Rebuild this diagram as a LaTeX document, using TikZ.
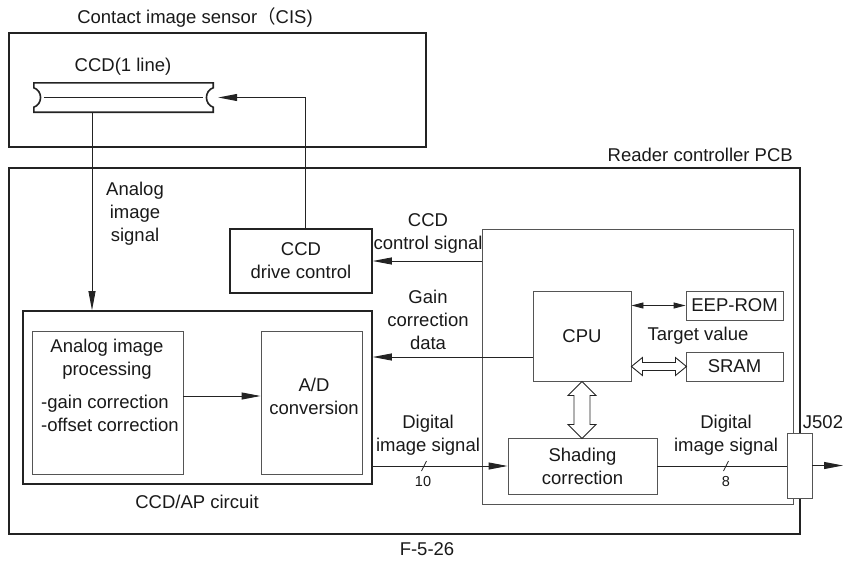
\documentclass[tikz,border=0pt]{standalone}
\usepackage{fontspec}
\setmainfont{Liberation Sans}
\newfontfamily\cjkfont{Noto Sans CJK SC}
\usepackage{xcolor}
\definecolor{linegray}{RGB}{35,35,35}
\definecolor{boxgray}{RGB}{85,85,85}
\usetikzlibrary{arrows.meta, calc}

\begin{document}
\begin{tikzpicture}[x=1pt, y=-1pt,
  every node/.style={font=\fontsize{18.5}{23}\selectfont, text=black!90},
  outerbox/.style={draw=linegray, line width=1.6pt, inner sep=0pt, align=center},
  innerbox/.style={draw=boxgray, line width=0.9pt, inner sep=0pt, align=center},
  txt/.style={align=center, inner sep=0pt},
  sig/.style={draw=linegray, line width=0.9pt, -{Triangle[length=19pt,width=7pt]}},
  bus/.style={draw=linegray, line width=0.7pt},
  hollow/.style={draw=linegray, line width=0.9pt, fill=white}]

\useasboundingbox (0,0) rectangle (845,562);

% === Contact image sensor ===
\node[outerbox, minimum width=417pt, minimum height=114pt] (cis) at (217.5,90) {};
\node[txt] (cistitle) at (195,18) {Contact image sensor{\cjkfont （}CIS)};

% CCD line sensor (notched bar)
\node[minimum width=179pt, minimum height=29pt, inner sep=0pt] (ccd) at (123.5,97.5) {};
\draw[linegray, line width=1.6pt] (ccd.north west) -- (ccd.north east)
     -- ($(ccd.north east)+(0,5)$) .. controls +(-9,3) and +(-9,-3) .. ($(ccd.south east)+(0,-5)$)
     -- (ccd.south east) -- (ccd.south west)
     -- ($(ccd.south west)+(0,-5)$) .. controls +(9,-3) and +(9,3) .. ($(ccd.north west)+(0,5)$)
     -- cycle;
\draw[linegray, line width=0.9pt] ($(ccd.west)+(10,0)$) -- ($(ccd.east)+(-10,0)$);
\node[txt] (ccdlbl) at (123,67) {CCD(1 line)};

% === Reader controller PCB ===
\node[outerbox, minimum width=791pt, minimum height=366pt] (pcb) at (404.5,351) {};
\node[txt, anchor=east] (pcblbl) at (793,155) {Reader controller PCB};

\node[outerbox, minimum width=142pt, minimum height=64pt] (drive) at (301,261) {CCD\\drive control};

% CCD/AP circuit
\node[outerbox, minimum width=349pt, minimum height=173pt] (ccdap) at (197.5,397.5) {};
\node[txt] (ccdaplbl) at (197,502) {CCD/AP circuit};

\node[innerbox, minimum width=151pt, minimum height=143pt] (analog) at (107.5,402.5) {};
\node[txt] (analogtxt) at (107,359.5) {Analog image\\processing};
\node[txt, anchor=west, align=left] (corrtxt) at (41,413.5) {-gain correction\\-offset correction};

\node[innerbox, minimum width=101pt, minimum height=143pt] (adc) at (311.5,402.5) {};
\node[txt] (adctxt) at (314,396.5) {A/D\\conversion};

% Controller area
\node[innerbox, minimum width=311pt, minimum height=275pt] (ctrl) at (637.5,366.5) {};
\node[innerbox, minimum width=98pt, minimum height=90pt] (cpu) at (582,336) {CPU};
\node[innerbox, minimum width=97pt, minimum height=29pt] (eeprom) at (734.5,305.5) {EEP-ROM};
\node[innerbox, minimum width=97pt, minimum height=29pt] (sram) at (734.5,366.5) {SRAM};
\node[txt] (targetlbl) at (698,336) {Target value};
\node[innerbox, minimum width=149pt, minimum height=56pt] (shading) at (582.5,466) {Shading\\correction};
\node[innerbox, fill=white, minimum width=25pt, minimum height=65pt] (j502) at (799.5,465.5) {};
\node[txt] (j502lbl) at (823,422) {J502};

% Signal labels
\node[txt] (analoglbl) at (135,214) {Analog\\image\\signal};
\node[txt] (ctrlsiglbl) at (428,233.5) {CCD\\control signal};
\node[txt] (gainlbl) at (428,319.5) {Gain\\correction\\data};
\node[txt] (digitlbl) at (428,435) {Digital\\image signal};
\node[txt] (digoutlbl) at (726,435.5) {Digital\\image signal};
\node[txt, font=\fontsize{14.5}{17}\selectfont] (bus10) at (423,482) {10};
\node[txt, font=\fontsize{14.5}{17}\selectfont] (bus8) at (726,482) {8};

% Connectors
\coordinate (adrop) at ([xshift=-31.5pt]ccd.south);
\draw[sig] (adrop) -- (adrop |- ccdap.north);
\draw[sig] ([xshift=4pt]drive.north) |- ($(ccd.east)+(5,0)$);
\draw[sig] (ctrl.west |- drive.east) -- (drive.east);
\coordinate (gainsrc) at ($(cpu.west)+(0,21)$);
\draw[sig] (gainsrc) -- (gainsrc -| ccdap.east);
\draw[sig] ($(analog.east)+(0,-6.5)$) -- ($(adc.west)+(0,-6.5)$);
\draw[sig] (ccdap.east |- shading.west) -- (shading.west);
\draw[bus] (421.5,471) -- (426.5,461);
\draw[linegray, line width=0.9pt] (shading.east) -- (j502.west |- shading.east);
\draw[bus] (723.5,471) -- (728.5,461);
\coordinate (jout) at (843,465.5);
\draw[sig] (j502.east) -- (jout);
\draw[linegray, line width=0.9pt, {Triangle[length=12pt,width=6pt]}-{Triangle[length=12pt,width=6pt]}]
     (cpu.east |- eeprom.west) -- (eeprom.west);

% Hollow bus arrows
\draw[hollow] (cpu.south) -- +(14,14) -- +(8,14) -- +(8,43) -- +(14,43) -- +(0,57)
     -- +(-14,43) -- +(-8,43) -- +(-8,14) -- +(-14,14) -- cycle;
\draw[hollow] (cpu.east |- sram.west) -- +(11,-9) -- +(11,-4) -- +(44,-4) -- +(44,-9) -- +(55,0)
     -- +(44,9) -- +(44,4) -- +(11,4) -- +(11,9) -- cycle;

\node[txt] (figno) at (427,549) {F-5-26};

\end{tikzpicture}
\end{document}
